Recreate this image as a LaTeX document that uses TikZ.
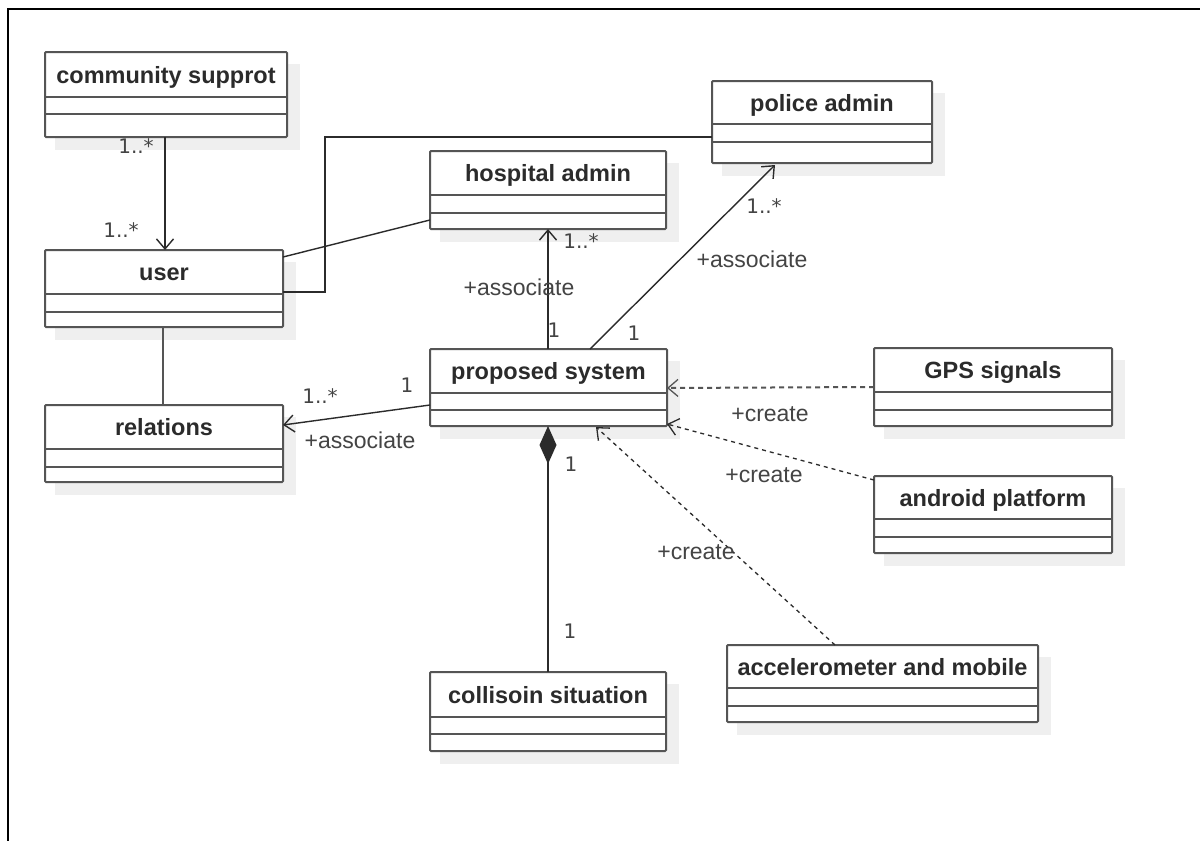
\documentclass[tikz,border=0pt]{standalone}
\usepackage{fontspec}
\setmainfont{Liberation Sans}
\newfontfamily\multfont{DejaVu Sans}
\usetikzlibrary{arrows.meta,calc}

\definecolor{boxgray}{HTML}{555555}
\definecolor{inkc}{HTML}{2B2B2B}
\definecolor{labelc}{HTML}{444444}
\definecolor{shadowc}{HTML}{EFEFEF}

\tikzset{
  classbox/.style={draw=boxgray, fill=white, line width=2pt, rectangle,
    inner sep=0pt, outer sep=0pt, rounded corners=1pt},
  boxrule/.style={draw=boxgray, line width=2pt},
  classname/.style={font=\bfseries\fontsize{23.5}{28}\selectfont, text=inkc,
    inner sep=0pt, anchor=base},
  conn/.style={draw=inkc, line width=1.4pt},
  openhead/.style={-{Straight Barb[length=10pt,width=17pt,line width=1.4pt]}},
  dep/.style={draw=inkc, line width=1.3pt, dash pattern=on 4pt off 4pt,
    -{Straight Barb[length=10pt,width=17pt,line width=1.3pt]}},
  mult/.style={font=\multfont\fontsize{20}{24}\selectfont, text=labelc, inner sep=0pt},
  role/.style={font=\fontsize{23}{27}\selectfont, text=labelc, inner sep=0pt},
}

% UML class: name, x-left, x-right, y-top, first rule, second rule, y-bottom, title
\newcommand{\umlclass}[8]{%
  \fill[shadowc] ({#2+10},{#4+12}) rectangle ({#3+13},{#7+13});
  \node[classbox, anchor=north west, minimum width={#3-#2},
        minimum height={#7-#4}] (#1) at (#2,#4) {};
  \draw[boxrule] (#2,#5) -- (#3,#5) (#2,#6) -- (#3,#6);
  \node[classname] (#1-name) at ({(#2+#3)/2},{(#4+#5)/2+8.5}) {#8};
}

\begin{document}
\begin{tikzpicture}[x=1pt,y=-1pt]
\useasboundingbox (0,0) rectangle (1200,841);
\fill[white] (0,0) rectangle (1200,841);

% outer frame
\draw[line width=2.5pt] (8,841) -- (8,9) -- (1200,9);

% classes
\umlclass{cs}{45}{287}{52}{97}{114}{137}{community supprot}
\umlclass{user}{45}{283}{250}{294}{312}{327}{user}
\umlclass{rel}{45}{283}{405}{449}{467}{482}{relations}
\umlclass{hosp}{430}{666}{151}{195}{213}{229}{hospital admin}
\umlclass{police}{712}{932}{81}{124}{142}{163}{police admin}
\umlclass{ps}{430}{667}{349}{393}{410}{426}{proposed system}
\umlclass{gps}{874}{1112}{348}{392}{410}{426}{GPS signals}
\umlclass{android}{874}{1112}{476}{519}{537}{553}{android platform}
\umlclass{acc}{727}{1038}{645}{688}{706}{722}{accelerometer and mobile}
\umlclass{coll}{430}{666}{672}{717}{734}{751}{collisoin situation}

% associations
\draw[conn, openhead] ($(cs.south west)+(120,0)$) -- ($(user.north west)+(120,0)$);
\draw[conn] ($(user.north east)+(0,7)$) -- ($(hosp.south west)+(0,-9)$);
\draw[conn] ($(user.north east)+(0,42)$) -- ++(42,0) |- ($(police.north west)+(0,56)$);
\draw[conn, draw=boxgray, line width=2pt] ($(user.south west)+(118,0)$) -- ($(rel.north west)+(118,0)$);
\draw[conn, openhead] ($(ps.north west)+(118,0)$) -- ($(hosp.south west)+(118,0)$);
\draw[conn, openhead] ($(ps.north west)+(160,0)$) -- ($(police.south west)+(63,2)$);
\draw[conn, openhead] ($(ps.north west)+(0,56)$) -- ($(rel.north east)+(0,20)$);

% composition
\draw[conn, {Diamond[length=38pt,width=17pt]}-] ($(ps.south west)+(118,0)$) -- ($(coll.north west)+(118,0)$);

% dependencies
\draw[dep, draw=boxgray, line width=2pt, dash pattern=on 5pt off 4pt]
  ($(gps.north west)+(0,39)$) -- ($(ps.north east)+(0,39)$);
\draw[dep] ($(android.north west)+(0,4)$) -- ($(ps.south east)+(0,-2)$);
\draw[dep] ($(acc.north west)+(108,0)$) -- ($(ps.south west)+(166,1)$);

% multiplicities
\node[mult] (m-cs)    at (136,146) {1..*};
\node[mult] (m-user)  at (121,230) {1..*};
\node[mult] (m-hosp)  at (581,241) {1..*};
\node[mult] (m-ps1)   at (554,330) {1};
\node[mult] (m-pol)   at (764,206) {1..*};
\node[mult] (m-ps2)   at (634,333) {1};
\node[mult] (m-rel)   at (320,396) {1..*};
\node[mult] (m-ps3)   at (407,385) {1};
\node[mult] (m-whole) at (571,464) {1};
\node[mult] (m-part)  at (570,631) {1};

% role names
\node[role] (r-hosp) at (519,287) {+associate};
\node[role] (r-pol)  at (752,259) {+associate};
\node[role] (r-rel)  at (360,440) {+associate};
\node[role] (c-gps)  at (770,414) {+create};
\node[role] (c-and)  at (764,475) {+create};
\node[role] (c-acc)  at (696,552) {+create};
\end{tikzpicture}
\end{document}
